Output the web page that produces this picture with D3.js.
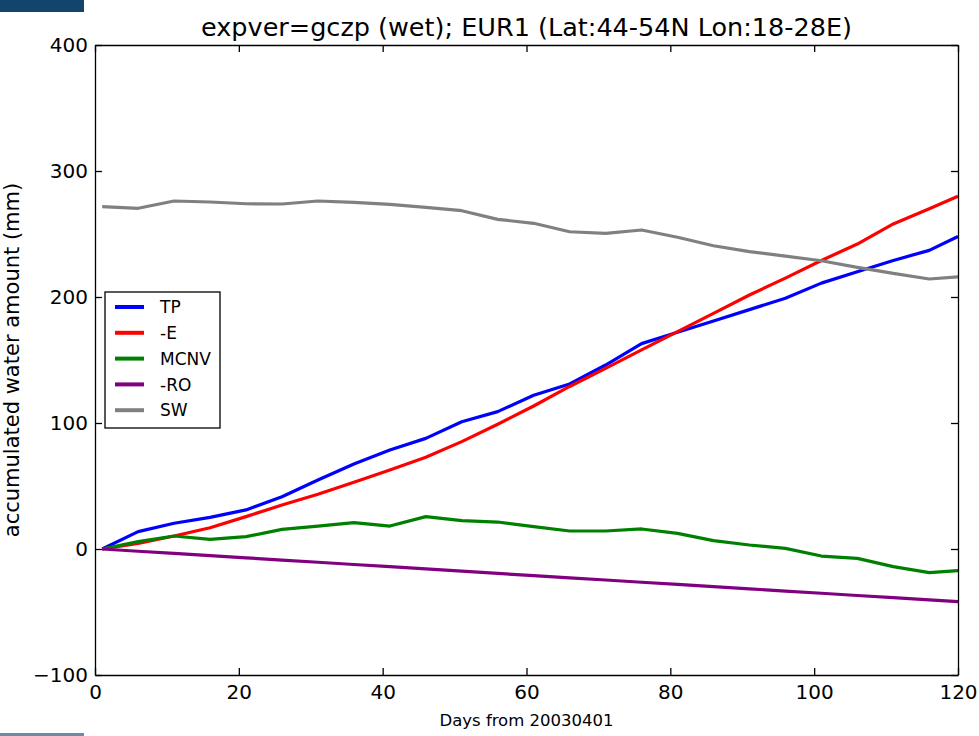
<!DOCTYPE html>
<html lang="en">

<head>
    <meta charset="utf-8">
    <title>Accumulated water amount</title>
    <script type="text/javascript" src="https://d3js.org/d3.v7.min.js"></script>
    <style type="text/css">
        body { margin: 0; background: #fff; }
        text { font-family: 'DejaVu Sans', sans-serif; }
    </style>
</head>

<body>
    <script type="text/javascript">
        //Data (days from 20030401, mm)
        const days = [1, 6, 11, 16, 21, 26, 31, 36, 41, 46, 51, 56, 61, 66, 71, 76, 81, 86, 91, 96, 101, 106, 111, 116, 120];

        const tp = [0, 13.8, 20.4, 25.1, 31, 41.5, 54.8, 67.5, 78.6, 87.8, 101, 109, 122, 131, 146, 163, 172, 181, 190, 199, 211, 220, 229, 237, 248];
        const negE = [0, 4.5, 10.3, 16.9, 25.7, 34.9, 43.4, 52.9, 62.7, 72.8, 85.2, 99, 113.5, 129, 143.4, 158, 172.5, 187, 201.6, 215, 229, 242, 258, 270, 280];
        const mcnv = [0, 5.8, 10.3, 7.7, 9.8, 15.6, 18.2, 20.9, 18.2, 25.7, 22.5, 21.4, 17.7, 14.3, 14.3, 15.9, 12.4, 6.6, 3.2, 0.5, -5.6, -7.4, -14, -18.8, -17.2];
        const negRO = [0, -1.8, -3.5, -5.3, -7.0, -8.8, -10.5, -12.3, -14.0, -15.8, -17.6, -19.4, -21.1, -22.9, -24.6, -26.4, -28.1, -29.9, -31.6, -33.4, -35.1, -36.9, -38.6, -40.4, -41.8];
        const sw = [271.7, 270.4, 276.2, 275.4, 274, 273.8, 276.2, 275.1, 273.5, 271.2, 268.5, 261.6, 258.5, 251.8, 250.5, 253.2, 247.4, 240.7, 236, 232.5, 228.8, 223.5, 218.8, 214.3, 215.9];

        const seriesNames = ['TP', '-E', 'MCNV', '-RO', 'SW'];
        const seriesValues = [tp, negE, mcnv, negRO, sw];
        const seriesColors = ['#0000ff', '#ff0000', '#008000', '#800080', '#808080'];

        const xTicks = [0, 20, 40, 60, 80, 100, 120];
        const yTicks = [-100, 0, 100, 200, 300, 400];

        //Canvas attributes
        const canvasWidth = 979;
        const canvasHeight = 736;
        const plot = { left: 95, right: 958, top: 45, bottom: 675 };

        //Scales
        const xScale = d3.scaleLinear()
            .domain([0, 120])
            .range([plot.left, plot.right])

        const yScale = d3.scaleLinear()
            .domain([-100, 400])
            .range([plot.bottom, plot.top])

        const svg = d3.select('body')
            .append('svg')
            .attr('width', canvasWidth)
            .attr('height', canvasHeight)

        //Page decoration bars at the left edge
        svg.append('rect')
            .attr('x', 0).attr('y', 0)
            .attr('width', 84).attr('height', 12)
            .attr('fill', '#13446e')
        svg.append('rect')
            .attr('x', 0).attr('y', 733)
            .attr('width', 84).attr('height', 3)
            .attr('fill', '#6e8aab')

        //Series lines
        const line = d3.line()
            .x((d, i) => xScale(days[i]))
            .y(d => yScale(d))

        svg.append('g')
            .attr('class', 'series')
            .selectAll('path')
            .data(seriesValues)
            .enter()
            .append('path')
            .attr('d', d => line(d))
            .attr('fill', 'none')
            .attr('stroke', (d, i) => seriesColors[i])
            .attr('stroke-width', 3.2)
            .attr('stroke-linejoin', 'round')
            .attr('stroke-linecap', 'butt')

        //Axes, ticks inward on all four sides
        const bottomAxis = d3.axisBottom(xScale)
            .tickValues(xTicks)
            .tickSizeInner(-7)
            .tickSizeOuter(0)
            .tickPadding(10)
        const topAxis = d3.axisTop(xScale)
            .tickValues(xTicks)
            .tickSizeInner(-7)
            .tickSizeOuter(0)
            .tickFormat('')
        const leftAxis = d3.axisLeft(yScale)
            .tickValues(yTicks)
            .tickSizeInner(-7)
            .tickSizeOuter(0)
            .tickPadding(7)
            .tickFormat(d => d < 0 ? '\u2212' + Math.abs(d) : d)
        const rightAxis = d3.axisRight(yScale)
            .tickValues(yTicks)
            .tickSizeInner(-7)
            .tickSizeOuter(0)
            .tickFormat('')

        const axes = [
            [bottomAxis, 'translate(0,' + plot.bottom + ')'],
            [topAxis, 'translate(0,' + plot.top + ')'],
            [leftAxis, 'translate(' + plot.left + ',0)'],
            [rightAxis, 'translate(' + plot.right + ',0)']
        ];
        axes.forEach(([axis, tr]) => {
            const g = svg.append('g').attr('transform', tr).call(axis)
            g.selectAll('path, line').attr('stroke', '#000').attr('stroke-width', 1.3)
            g.selectAll('text')
                .attr('font-family', "'DejaVu Sans', sans-serif")
                .attr('font-size', 20)
                .attr('fill', '#000')
        })

        //Title
        svg.append('text')
            .attr('x', (plot.left + plot.right) / 2)
            .attr('y', 36)
            .attr('text-anchor', 'middle')
            .attr('font-size', 25.5)
            .text('expver=gczp (wet); EUR1 (Lat:44-54N Lon:18-28E)')

        //Axis labels
        svg.append('text')
            .attr('x', (plot.left + plot.right) / 2)
            .attr('y', 726)
            .attr('text-anchor', 'middle')
            .attr('font-size', 16.5)
            .text('Days from 20030401')

        svg.append('text')
            .attr('transform', 'translate(19,' + ((plot.top + plot.bottom) / 2) + ') rotate(-90)')
            .attr('text-anchor', 'middle')
            .attr('font-size', 21)
            .text('accumulated water amount (mm)')

        //Legend
        const legend = svg.append('g')
            .attr('class', 'legend')
            .attr('transform', 'translate(105,292)')

        legend.append('rect')
            .attr('width', 115)
            .attr('height', 136)
            .attr('fill', '#fff')
            .attr('stroke', '#000')
            .attr('stroke-width', 1.3)

        const entries = legend.selectAll('g.entry')
            .data(seriesNames)
            .enter()
            .append('g')
            .attr('class', 'entry')
            .attr('transform', (d, i) => 'translate(0,' + (15 + i * 25.8) + ')')

        entries.append('line')
            .attr('x1', 10).attr('x2', 39)
            .attr('y1', 0).attr('y2', 0)
            .attr('stroke', (d, i) => seriesColors[i])
            .attr('stroke-width', 4)

        entries.append('text')
            .attr('x', 55)
            .attr('y', 0)
            .attr('dy', '0.36em')
            .attr('font-size', 17)
            .text(d => d)
    </script>
</body>

</html>
